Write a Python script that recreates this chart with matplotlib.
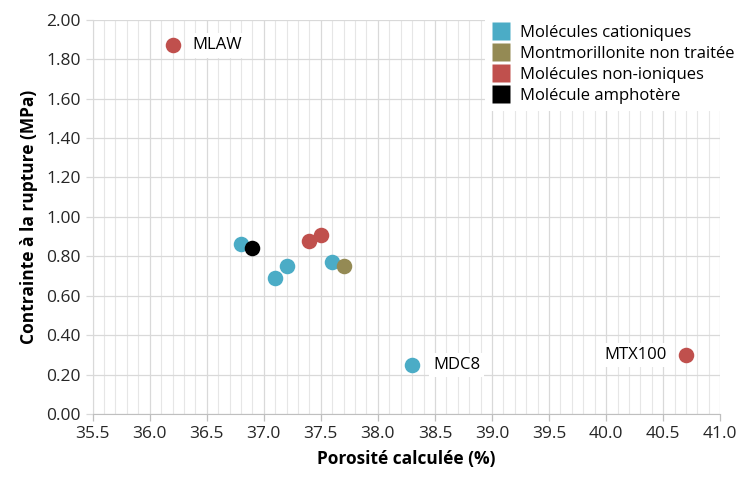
import matplotlib
matplotlib.use("Agg")
import matplotlib.pyplot as plt
from matplotlib.ticker import MultipleLocator, FormatStrFormatter
from matplotlib.lines import Line2D

plt.rcParams['font.family'] = ['Open Sans', 'DejaVu Sans']

# data
cat_names = ['Molécules cationiques', 'Montmorillonite non traitée',
             'Molécules non-ioniques', 'Molécule amphotère']
cat_colors = ['#4BACC6', '#948A54', '#C0504D', '#000000']

cation_x = [36.8, 37.1, 37.2, 37.6, 38.3]
cation_y = [0.86, 0.69, 0.75, 0.77, 0.25]
mont_x = [37.7]
mont_y = [0.75]
nonion_x = [36.2, 37.4, 37.5, 40.7]
nonion_y = [1.87, 0.88, 0.91, 0.30]
ampho_x = [36.9]
ampho_y = [0.84]

point_labels = ['MLAW', 'MDC8', 'MTX100']
label_pos = [(36.2, 1.87), (38.3, 0.25), (40.7, 0.30)]

fig = plt.figure(figsize=(7.41, 4.82), dpi=100)
ax = fig.add_axes([0.125, 0.141, 0.847, 0.818])

series = [(cation_x, cation_y), (mont_x, mont_y), (nonion_x, nonion_y), (ampho_x, ampho_y)]
for (xs, ys), name, col in zip(series, cat_names, cat_colors):
    ax.scatter(xs, ys, s=125, color=col, label=name, zorder=3, linewidths=0)

# point labels with white box
box = dict(facecolor='white', edgecolor='none', pad=3)
ax.annotate(point_labels[0], label_pos[0], xytext=(14, 0), textcoords='offset points',
            ha='left', va='center', fontsize=12, bbox=box, zorder=4)
ax.annotate(point_labels[1], label_pos[1], xytext=(15, 0), textcoords='offset points',
            ha='left', va='center', fontsize=12, bbox=box, zorder=4)
ax.annotate(point_labels[2], label_pos[2], xytext=(-14, 0), textcoords='offset points',
            ha='right', va='center', fontsize=12, bbox=box, zorder=4)

ax.set_xlim(35.5, 41.0)
ax.set_ylim(0, 2.0)
ax.xaxis.set_major_locator(MultipleLocator(0.5))
ax.xaxis.set_minor_locator(MultipleLocator(0.1))
ax.yaxis.set_major_locator(MultipleLocator(0.2))
ax.xaxis.set_major_formatter(FormatStrFormatter('%.1f'))
ax.yaxis.set_major_formatter(FormatStrFormatter('%.2f'))

ax.grid(which='major', axis='both', color='#D9D9D9', linewidth=0.9, zorder=0)
ax.grid(which='minor', axis='x', color='#E6E6E6', linewidth=0.8, zorder=0)
ax.set_axisbelow(True)

for s in ['top', 'right']:
    ax.spines[s].set_visible(False)
ax.spines['left'].set_color('#D9D9D9')
ax.spines['bottom'].set_color('#BFBFBF')
ax.tick_params(axis='both', which='major', labelsize=12.5, length=5, width=0.9)
ax.tick_params(axis='y', colors='#D9D9D9', labelcolor='#262626')
ax.tick_params(axis='x', which='minor', length=0)
ax.tick_params(axis='x', which='major', direction='out', colors='#BFBFBF', labelcolor='#262626')

ax.set_xlabel('Porosité calculée (%)', fontsize=12.5, fontweight='bold', labelpad=6)
ax.set_ylabel('Contrainte à la rupture (MPa)', fontsize=12.5, fontweight='bold', labelpad=6)

handles = [Line2D([], [], linestyle='none', marker='s', markersize=13,
                  markerfacecolor=c, markeredgecolor='none') for c in cat_colors]
leg = ax.legend(handles, cat_names, loc='upper right', bbox_to_anchor=(1.046, 1.025),
                fontsize=12, frameon=True, handletextpad=0.5, labelspacing=0.3,
                borderpad=0.4, handlelength=1.2)
leg.get_frame().set_edgecolor('none')
leg.get_frame().set_facecolor('white')
leg.get_frame().set_alpha(1)
leg.get_frame().set_boxstyle('square', pad=0)

fig.savefig('out.png', dpi=100)
